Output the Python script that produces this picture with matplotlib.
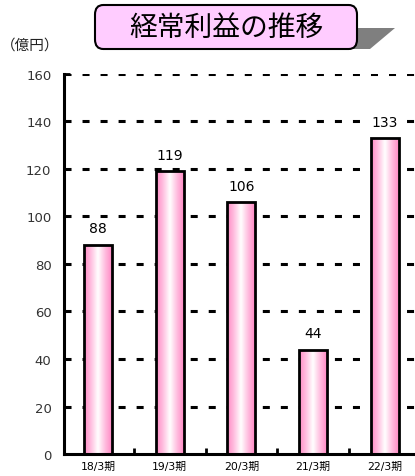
import numpy as np
import matplotlib
matplotlib.use("Agg")
import matplotlib.pyplot as plt
from matplotlib.patches import FancyBboxPatch, Polygon, Rectangle
from matplotlib.colors import LinearSegmentedColormap

plt.rcParams['font.family'] = ['DejaVu Sans', 'Noto Sans CJK JP']

categories = ["18/3期", "19/3期", "20/3期", "21/3期", "22/3期"]
values = [88, 119, 106, 44, 133]
yticks = [0, 20, 40, 60, 80, 100, 120, 140, 160]
title = "経常利益の推移"
unit = "（億円）"

fig = plt.figure(figsize=(4.15, 4.77), dpi=100)
ax = fig.add_axes([0.154, 0.046, 0.846, 0.797])

x = np.arange(len(categories))
width = 0.39
ax.set_xlim(-0.475, 4.42)
ax.set_ylim(0, 160)

# dashed horizontal grid
for yv in yticks[1:]:
    ax.axhline(yv, color='black', lw=2.2, ls=(0, (2.3, 3.6)), zorder=1)

# pink-white-pink gradient bars
cmap = LinearSegmentedColormap.from_list(
    "pinkbar", ["#ff88c4", "#ffbfe0", "#ffffff", "#ffbfe0", "#ff88c4"])
grad = np.linspace(0, 1, 256).reshape(1, -1)
bars = ax.bar(x, values, width=width, color='none', edgecolor='black',
              linewidth=2, zorder=3)
for b, v in zip(bars, values):
    x0 = b.get_x()
    im = ax.imshow(grad, cmap=cmap, aspect='auto',
                   extent=[x0, x0 + width, 0, v], zorder=2,
                   interpolation='bicubic')
    clip = Rectangle((x0, 0), width, v, transform=ax.transData)
    im.set_clip_path(clip)
    ax.text(x0 + width / 2, v + 4, f"{v}", ha='center', va='bottom',
            fontsize=10, zorder=4,
            bbox=dict(facecolor='white', edgecolor='none', pad=1.5))

ax.set_xticks(x)
ax.set_xticklabels(categories, fontsize=7.8)
ax.set_xticks(x[:-1] + 0.5, minor=True)
ax.tick_params(axis='x', which='major', length=0, pad=5)
ax.tick_params(axis='x', which='minor', length=4, width=2, direction='in')
ax.set_yticks(yticks)
ax.set_yticklabels([str(t) for t in yticks], fontsize=9.5, color='#333333')
ax.tick_params(axis='y', length=4, width=2, direction='in', pad=9)

for s in ['top', 'right']:
    ax.spines[s].set_visible(False)
for s in ['left', 'bottom']:
    ax.spines[s].set_linewidth(2.2)

fig.text(1 / 415, 1 - 46 / 477, unit, fontsize=10.5, va='center', ha='left',
         family=['Noto Sans CJK JP', 'DejaVu Sans'], color='#222222')

# title box with shadow
shadow = Polygon([(352 / 415, 1 - 29 / 477), (395 / 415, 1 - 29 / 477),
                  (370 / 415, 1 - 50 / 477), (352 / 415, 1 - 50 / 477)],
                 closed=True, transform=fig.transFigure,
                 facecolor='#7f7f7f', edgecolor='none', zorder=1)
fig.add_artist(shadow)
box = FancyBboxPatch((95 / 415, 1 - 50 / 477), 262 / 415, 44 / 477,
                     boxstyle="round,pad=0,rounding_size=0.02",
                     transform=fig.transFigure, facecolor='#ffccff',
                     edgecolor='black', linewidth=1.5, zorder=2)
fig.add_artist(box)
fig.text(226 / 415, 1 - 28 / 477, title, fontsize=20, ha='center',
         va='center', zorder=3, family=['Noto Sans CJK JP', 'DejaVu Sans'])

fig.savefig("out.png", dpi=100)
